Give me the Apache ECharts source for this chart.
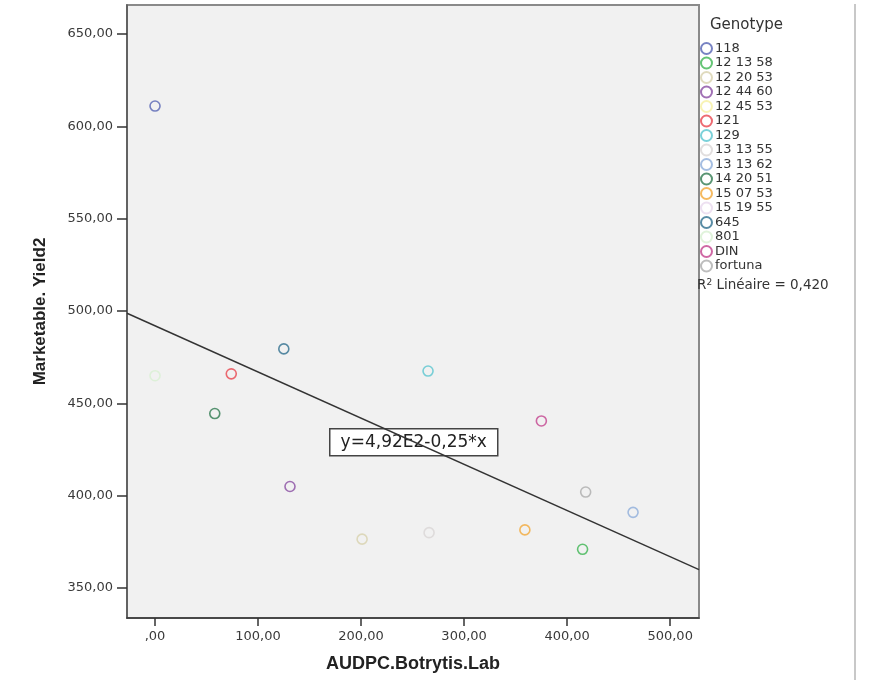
<!DOCTYPE html>
<html>
<head>
<meta charset="utf-8">
<script src="https://cdn.jsdelivr.net/npm/echarts@6/dist/echarts.min.js"></script>
<style>
  html, body { margin: 0; padding: 0; background: #fff; }
  #main { width: 871px; height: 682px; }
</style>
</head>
<body>
<div id="main"></div>
<script>
// genotypes, in legend order
var genotypes = ['118', '12 13 58', '12 20 53', '12 44 60', '12 45 53', '121', '129', '13 13 55',
    '13 13 62', '14 20 51', '15 07 53', '15 19 55', '645', '801', 'DIN', 'fortuna'];
var genoColors = ['#5664b4', '#3db552', '#d8d2ae', '#8a4ea2', '#f6f0a2', '#e9464f', '#5ac6cf', '#dad6d6',
    '#8eaedb', '#2f7a50', '#f2a93a', '#e8d8ee', '#2f6f8e', '#d8f0d2', '#c3448f', '#adadad'];
// AUDPC.Botrytis.Lab (x) and Marketable.Yield2 (y), null = not visible
var audpc = [0, 415, 201, 131, null, 74, 265, 266, 464, 58, 359, null, 125, 0, 375, 418];
var yield2 = [611, 371, 376.5, 405, null, 466, 467.5, 380, 391, 444.5, 381.5, null, 479.5, 465, 440.5, 402];

// linear fit, y = 4,92E2 - 0,25*x
var fitIntercept = 492;
var fitSlope = -0.25;
var xTicks = [0, 100, 200, 300, 400, 500];
var yTicks = [350, 400, 450, 500, 550, 600, 650];
var xMin = -27.2, xMax = 528;
var yMin = 333.8, yMax = 665.7;

function fmt(v) {
    var s = v.toFixed(2).replace('.', ',');
    if (s.indexOf('0,') === 0) s = s.substring(1);
    return s;
}

var series = [];
for (var i = 0; i < genotypes.length; i++) {
    series.push({
        name: genotypes[i],
        type: 'scatter',
        symbol: 'circle',
        symbolSize: 10,
        itemStyle: {color: 'rgba(0,0,0,0)', borderColor: genoColors[i], borderWidth: 1.6},
        data: audpc[i] === null ? [] : [[audpc[i], yield2[i]]]
    });
}
series.push({
    name: 'fit',
    type: 'line',
    symbol: 'none',
    silent: true,
    lineStyle: {color: '#333', width: 1.4},
    data: [[xMin, fitIntercept + fitSlope * xMin], [xMax, fitIntercept + fitSlope * xMax]]
});

var chart = echarts.init(document.getElementById('main'));
chart.setOption({
    animation: false,
    backgroundColor: '#fff',
    textStyle: {fontFamily: 'DejaVu Sans'},
    grid: {
        left: 127, top: 5, right: 172, bottom: 64,
        show: true, backgroundColor: '#f1f1f1', borderColor: '#8a8a8a', borderWidth: 2
    },
    xAxis: {
        type: 'value', min: xMin, max: xMax,
        name: 'AUDPC.Botrytis.Lab', nameLocation: 'middle', nameGap: 37,
        nameTextStyle: {fontSize: 18, fontWeight: 'bold', color: '#222', fontFamily: 'Liberation Sans'},
        splitLine: {show: false},
        axisLine: {onZero: false, lineStyle: {color: '#333', width: 1.5}},
        axisTick: {length: 8, lineStyle: {color: '#333', width: 1.5}, customValues: xTicks},
        axisLabel: {customValues: xTicks, formatter: fmt, fontSize: 13, color: '#3a3a3a', margin: 12}
    },
    yAxis: {
        type: 'value', min: yMin, max: yMax,
        name: 'Marketable. Yield2', nameLocation: 'middle', nameGap: 78,
        nameTextStyle: {fontSize: 17, fontWeight: 'bold', color: '#222', fontFamily: 'Liberation Sans'},
        splitLine: {show: false},
        axisLine: {onZero: false, lineStyle: {color: '#555', width: 1.5}},
        axisTick: {length: 10, lineStyle: {color: '#333', width: 1.5}, customValues: yTicks},
        axisLabel: {customValues: yTicks, formatter: fmt, fontSize: 13, color: '#3a3a3a', margin: 14}
    },
    legend: {
        orient: 'vertical', left: 695, top: 37,
        data: genotypes,
        icon: 'circle', itemWidth: 11, itemHeight: 11, itemGap: 1.5,
        textStyle: {fontSize: 13, color: '#333', lineHeight: 11, padding: [0, 0, 0, -2]}
    },
    graphic: [
        {type: 'line', shape: {x1: 855, y1: 4, x2: 855, y2: 680}, style: {stroke: '#c8c8c8', lineWidth: 2}},
        {type: 'text', left: 710, top: 18, style: {text: 'Genotype', fontSize: 15, fontFamily: 'DejaVu Sans', fill: '#333'}},
        {type: 'text', left: 697, top: 278, style: {
            text: '{a|R}{s|2}{a| Linéaire = 0,420}',
            rich: {a: {fontSize: 13.5, fill: '#333', fontFamily: 'DejaVu Sans'},
                   s: {fontSize: 9, fill: '#333', fontFamily: 'DejaVu Sans', verticalAlign: 'top', padding: [0, 0, 6, 0]}}
        }},
        {type: 'group', left: 329, top: 428, children: [
            {type: 'rect', shape: {x: 0, y: 0, width: 168, height: 27}, style: {fill: '#fff', stroke: '#444', lineWidth: 1.5}},
            {type: 'text', x: 84, y: 14, style: {text: 'y=4,92E2-0,25*x', fontSize: 17, fill: '#222',
                fontFamily: 'DejaVu Sans', align: 'center', verticalAlign: 'middle'}}
        ]}
    ],
    series: series
});
</script>
</body>
</html>
